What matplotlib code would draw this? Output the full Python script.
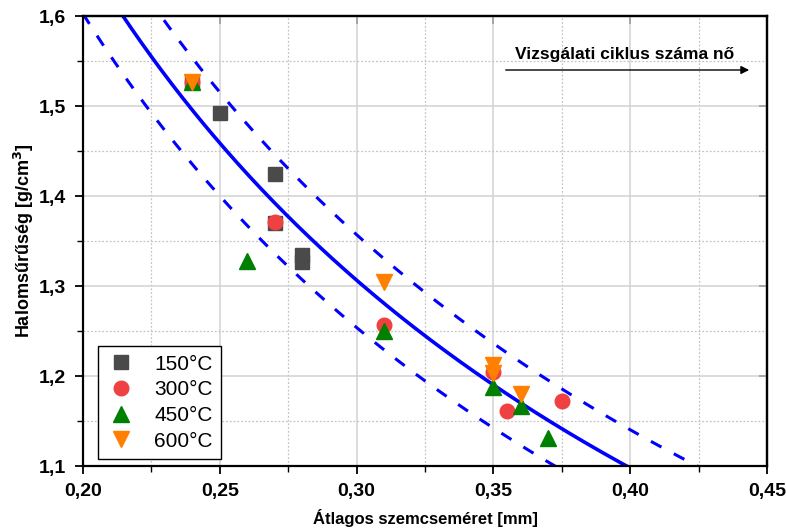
import matplotlib
matplotlib.use("Agg")
import numpy as np
import matplotlib.pyplot as plt
from matplotlib.ticker import FixedLocator, MultipleLocator

plt.rcParams['font.family'] = ['Liberation Sans', 'DejaVu Sans']

# ---- data ----
x_150 = [0.24, 0.25, 0.27, 0.27, 0.28, 0.28]
y_150 = [1.527, 1.492, 1.425, 1.370, 1.335, 1.327]

x_300 = [0.24, 0.27, 0.31, 0.35, 0.355, 0.375]
y_300 = [1.527, 1.371, 1.257, 1.204, 1.161, 1.172]

x_450 = [0.24, 0.26, 0.31, 0.35, 0.36, 0.37]
y_450 = [1.527, 1.328, 1.250, 1.188, 1.167, 1.131]

x_600 = [0.24, 0.31, 0.35, 0.35, 0.36]
y_600 = [1.527, 1.305, 1.212, 1.203, 1.180]

# power-law fit y = a * x**b and its prediction bands (parameters)
fit_a, fit_b = 0.6306, -0.605
upper_a, upper_b = 0.6550, -0.605
lower_a, lower_b = 0.6052, -0.605

x_ticks = [0.20, 0.25, 0.30, 0.35, 0.40, 0.45]
x_ticklabels = ["0,20", "0,25", "0,30", "0,35", "0,40", "0,45"]
y_ticks = [1.1, 1.2, 1.3, 1.4, 1.5, 1.6]
y_ticklabels = ["1,1", "1,2", "1,3", "1,4", "1,5", "1,6"]

labels = ["150°C", "300°C", "450°C", "600°C"]

# ---- figure ----
fig = plt.figure(figsize=(7.86, 5.30), dpi=100)
ax = fig.add_axes([83/786, 1 - 466/530, (767-83)/786, (466-16)/530])

ax.set_xlim(0.20, 0.45)
ax.set_ylim(1.1, 1.6)

# grid
ax.xaxis.set_major_locator(FixedLocator(x_ticks))
ax.yaxis.set_major_locator(FixedLocator(y_ticks))
ax.xaxis.set_minor_locator(MultipleLocator(0.025))
ax.yaxis.set_minor_locator(MultipleLocator(0.05))
ax.grid(which='major', color='#d2d2d2', lw=1.1, ls='-', zorder=0)
ax.grid(which='minor', color='#c4c4c4', lw=0.9, ls=(0, (1.5, 1.5)), zorder=0)
ax.set_axisbelow(True)

# fit and bands
xx = np.linspace(0.20, 0.45, 400)
ax.plot(xx, fit_a * xx ** fit_b, color='#0000ff', lw=2.6, zorder=2)
ax.plot(xx, upper_a * xx ** upper_b, color='#0000ff', lw=2.2, ls=(0, (3.9, 4.6)), zorder=2)
ax.plot(xx, lower_a * xx ** lower_b, color='#0000ff', lw=2.2, ls=(0, (3.9, 4.6)), zorder=2)

# data
ax.plot(x_150, y_150, ls='none', marker='s', ms=9.5, color='#4a4a4a', label=labels[0], zorder=3)
ax.plot(x_300, y_300, ls='none', marker='o', ms=10.5, color='#ef4141', label=labels[1], zorder=3)
ax.plot(x_450, y_450, ls='none', marker='^', ms=11.5, color='#008000', label=labels[2], zorder=3)
ax.plot(x_600, y_600, ls='none', marker='v', ms=11.5, color='#ff8000', label=labels[3], zorder=3)

# ticks
ax.set_xticklabels(x_ticklabels)
ax.set_yticklabels(y_ticklabels)
ax.tick_params(which='major', direction='out', length=6, width=1.3, labelsize=14, pad=6)
ax.tick_params(which='minor', direction='out', length=4, width=1.0)
for lab in ax.get_xticklabels() + ax.get_yticklabels():
    lab.set_fontweight('bold')

sec_x = ax.secondary_xaxis('top')
sec_x.set_xticks(x_ticks)
sec_x.tick_params(direction='in', length=6, width=1.3, labeltop=False)
sec_y = ax.secondary_yaxis('right')
sec_y.set_yticks(y_ticks)
sec_y.tick_params(direction='in', length=6, width=1.3, labelright=False)
for s in list(ax.spines.values()) + [sec_x.spines['top'], sec_y.spines['right']]:
    s.set_linewidth(1.6)

ax.set_xlabel("Átlagos szemcseméret [mm]", fontsize=12, fontweight='bold', labelpad=7)
ax.set_ylabel("Halomsűrűség [g/cm$^\\mathbf{3}$]", fontsize=13, fontweight='bold', labelpad=2)

# annotation arrow
ax.annotate("", xy=(0.4445, 1.540), xytext=(0.3535, 1.540),
            arrowprops=dict(arrowstyle='-|>', color='black', lw=1.0, mutation_scale=12))
ax.text(0.398, 1.557, "Vizsgálati ciklus száma nő", fontsize=12.5, fontweight='bold',
        ha='center', va='center')

leg = ax.legend(loc='lower left', bbox_to_anchor=((98-83)/684, (466-459)/450),
                fontsize=15, frameon=True, fancybox=False, edgecolor='black',
                framealpha=1, borderpad=0.4, labelspacing=0.32, handletextpad=0.9,
                handlelength=1.4, borderaxespad=0)
leg.get_frame().set_linewidth(1.0)

fig.savefig("out.png", dpi=100)
